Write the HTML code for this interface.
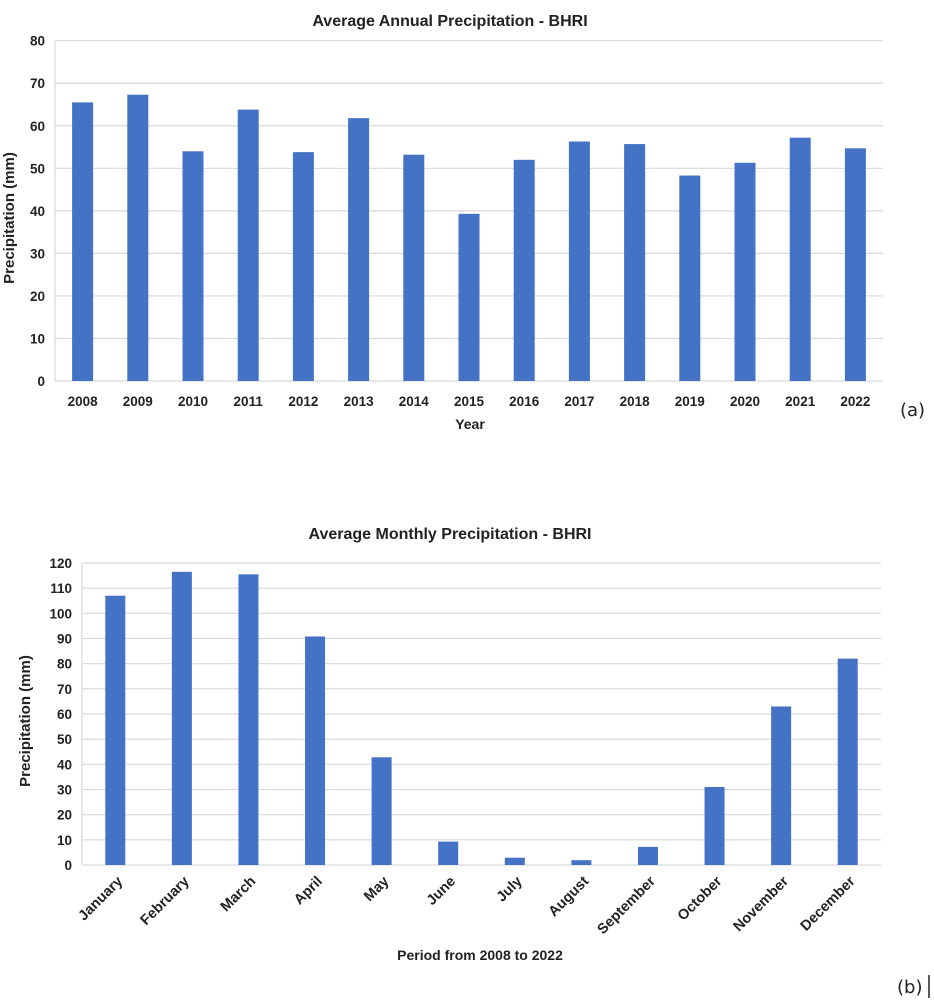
<!DOCTYPE html>
<html><head><meta charset="utf-8"><style>
html,body{margin:0;padding:0;background:#fff;}
svg{display:block;font-family:"Liberation Sans",Arial,sans-serif;}
</style></head><body>
<svg id="c" width="934" height="1002" viewBox="0 0 934 1002">
<text x="450" y="26" text-anchor="middle" font-size="16" font-weight="bold" fill="#222">Average Annual Precipitation  - BHRI</text>
<text x="450" y="539" text-anchor="middle" font-size="16" font-weight="bold" fill="#222">Average Monthly Precipitation  - BHRI</text>
<text x="8" y="212" transform="rotate(-90 14 212)" text-anchor="middle" font-size="15" font-weight="bold" fill="#222">Precipitation (mm)</text>
<text x="24" y="715" transform="rotate(-90 30 715)" text-anchor="middle" font-size="15" font-weight="bold" fill="#222">Precipitation (mm)</text>
<text x="470" y="429" text-anchor="middle" font-size="14" font-weight="bold" fill="#222">Year</text>
<text x="480" y="960" text-anchor="middle" font-size="14" font-weight="bold" fill="#222">Period from 2008 to 2022</text>
<text x="900" y="416" font-size="18" fill="#222" font-family="DejaVu Sans,sans-serif">(a)</text>
<text x="897" y="993" font-size="18" fill="#222" font-family="DejaVu Sans,sans-serif">(b)</text>
<line x1="929" y1="975" x2="929" y2="998" stroke="#222" stroke-width="1.5"/>
<g id="ga"></g><g id="gb"></g>
</svg>
<script>
const years = ["2008","2009","2010","2011","2012","2013","2014","2015","2016","2017","2018","2019","2020","2021","2022"];
const annualValues = [65.5,67.3,54,63.8,53.8,61.8,53.2,39.3,52,56.3,55.7,48.3,51.3,57.2,54.7];
const annualTicks = [0,10,20,30,40,50,60,70,80];
const months = ["January","February","March","April","May","June","July","August","September","October","November","December"];
const monthlyValues = [107,116.5,115.5,90.8,42.8,9.3,2.9,1.9,7.2,31,63,82];
const monthlyTicks = [0,10,20,30,40,50,60,70,80,90,100,110,120];
const NS="http://www.w3.org/2000/svg";
function mk(tag,attrs,parent,txt){const e=document.createElementNS(NS,tag);for(const k in attrs)e.setAttribute(k,attrs[k]);if(txt!==undefined)e.textContent=txt;parent.appendChild(e);return e;}
function chart(g,cats,vals,ticks,L,R,T,B,max,bw,rot,prefix){
  const y=v=>B-(v/max)*(B-T);
  const band=(R-L)/cats.length;
  const x=i=>L+band*(i+0.5);
  ticks.forEach(t=>{
    const gl=mk('line',{x1:L,x2:R,y1:y(t),y2:y(t),stroke:'#d9d9d9','stroke-width':1.2},g);
    
    
    const tl=mk('text',{x:L-10,y:y(t)+5,'text-anchor':'end','font-size':13.5,'font-weight':'bold',fill:'#222'},g,String(t));
    
    
  });
  const ax=mk('line',{x1:L,x2:L,y1:T,y2:B,stroke:'#d9d9d9','stroke-width':1.2},g);
  
  
  vals.forEach((v,i)=>{
    const r=mk('rect',{x:x(i)-bw/2,y:y(v),width:bw,height:B-y(v),fill:'#4472c4'},g);
    
    
  });
  cats.forEach((c,i)=>{
    let t;
    if(rot){t=mk('text',{x:x(i)+8,y:B+17,'text-anchor':'end','font-size':14.5,'font-weight':'bold',fill:'#222',transform:`rotate(-45 ${x(i)+8} ${B+17})`},g,c);}
    else{t=mk('text',{x:x(i),y:B+25,'text-anchor':'middle','font-size':13.5,'font-weight':'bold',fill:'#222'},g,c);}
    
    
  });
}
chart(document.getElementById('ga'),years,annualValues,annualTicks,55,883,40.7,381,80,21,false,'annual');
chart(document.getElementById('gb'),months,monthlyValues,monthlyTicks,82,881,563,865,120,20,true,'monthly');
</script>
</body></html>
